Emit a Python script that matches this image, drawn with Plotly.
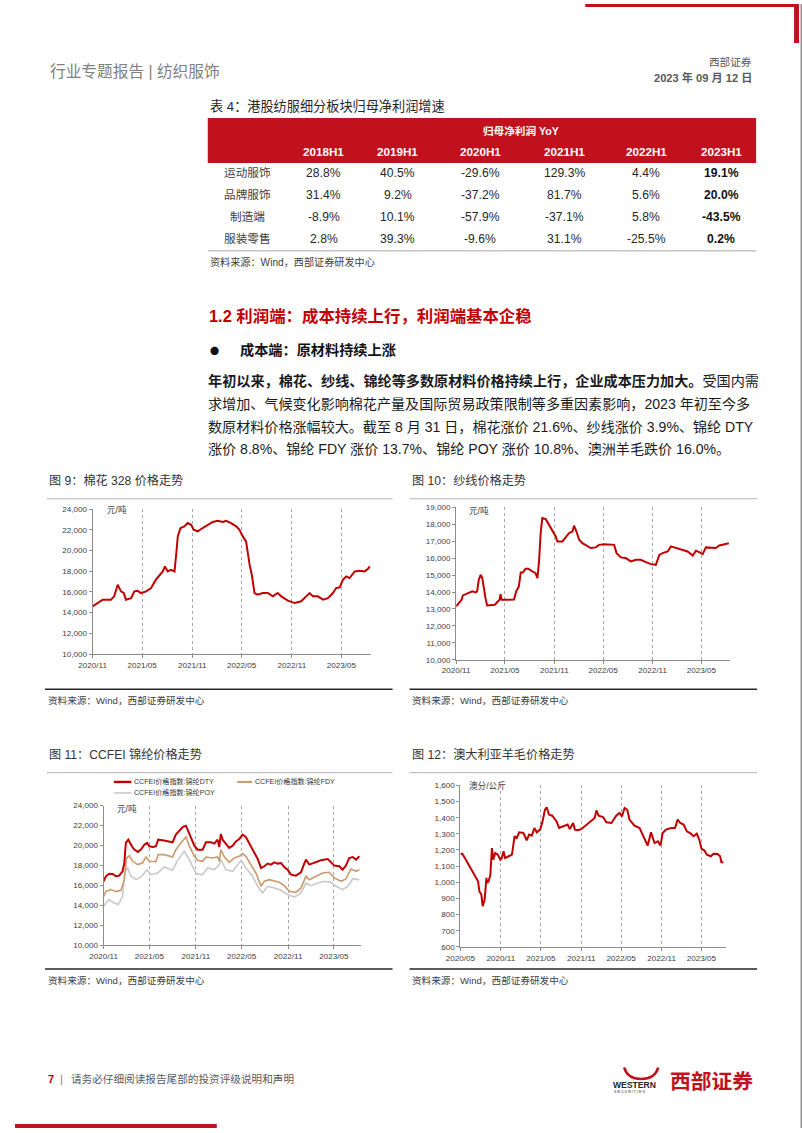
import plotly.graph_objects as go

W, H = 802, 1133

# ---------------- table data ----------------
years = ["2018H1", "2019H1", "2020H1", "2021H1", "2022H1", "2023H1"]
sectors = ["运动服饰", "品牌服饰", "制造端", "服装零售"]
yoy_sport = [28.8, 40.5, -29.6, 129.3, 4.4, 19.1]
yoy_brand = [31.4, 9.2, -37.2, 81.7, 5.6, 20.0]
yoy_manu = [-8.9, 10.1, -57.9, -37.1, 5.8, -43.5]
yoy_retail = [2.8, 39.3, -9.6, 31.1, -25.5, 0.2]

# ---------------- chart 9: cotton 328 ----------------
cotton_dates = ["2020-11-01","2020-11-13","2020-12-08","2021-01-07","2021-01-19","2021-02-01","2021-02-13","2021-02-23",
    "2021-03-03","2021-03-22","2021-04-03","2021-04-15","2021-04-27","2021-05-16","2021-06-03","2021-06-21","2021-07-04",
    "2021-07-16","2021-07-24","2021-08-03","2021-08-15","2021-08-28","2021-09-03","2021-09-09","2021-09-19","2021-10-03",
    "2021-10-15","2021-10-28","2021-11-06","2021-11-21","2021-12-09","2021-12-28","2022-01-15","2022-02-02","2022-02-21",
    "2022-03-05","2022-03-23","2022-04-11","2022-04-23","2022-05-05","2022-05-17","2022-05-30","2022-06-07","2022-06-17",
    "2022-06-29","2022-07-17","2022-08-05","2022-08-23","2022-09-10","2022-09-23","2022-10-17","2022-11-11","2022-12-05",
    "2022-12-23","2023-01-05","2023-01-17","2023-02-04","2023-02-23","2023-03-13","2023-03-31","2023-04-12","2023-04-25",
    "2023-05-07","2023-05-19","2023-05-31","2023-06-19","2023-07-07","2023-07-25","2023-08-07","2023-08-13"]
cotton_price = [14600,14830,15250,15250,15570,16690,16050,15890,15250,15400,16050,16100,15890,16050,16370,17180,17660,
    17980,18460,17980,18140,17980,19590,21360,22170,22330,22650,22490,22000,21840,22170,22490,22750,22870,22750,22870,
    22650,22330,22000,21360,20880,18630,17660,15890,15730,15890,15890,15570,15890,15570,15150,14920,15090,15570,15890,
    15570,15570,15250,15400,15890,16370,16440,17180,17500,17340,17980,18050,17980,18240,18460]

# ---------------- chart 10: yarn ----------------
yarn_dates = ["2020-11-01","2020-11-11","2020-11-21","2020-11-26","2020-12-06","2020-12-18","2020-12-31","2021-01-12",
    "2021-01-18","2021-01-24","2021-01-31","2021-02-06","2021-02-12","2021-02-18","2021-02-24","2021-03-15","2021-03-25",
    "2021-04-03","2021-04-11","2021-04-15","2021-04-19","2021-05-04","2021-05-16","2021-06-04","2021-06-12","2021-06-22",
    "2021-06-29","2021-07-07","2021-07-17","2021-07-27","2021-08-11","2021-08-23","2021-08-30","2021-09-05","2021-09-11",
    "2021-09-17","2021-09-30","2021-10-12","2021-10-24","2021-11-06","2021-11-12","2021-12-01","2021-12-13","2021-12-25",
    "2022-01-07","2022-01-13","2022-01-22","2022-02-01","2022-02-13","2022-03-04","2022-03-16","2022-04-04","2022-04-16",
    "2022-05-05","2022-05-23","2022-06-11","2022-06-20","2022-07-06","2022-07-24","2022-08-12","2022-08-31","2022-09-18",
    "2022-10-07","2022-10-26","2022-11-13","2022-11-26","2022-12-08","2022-12-27","2023-01-08","2023-01-27","2023-02-20",
    "2023-03-11","2023-03-30","2023-04-11","2023-04-23","2023-05-06","2023-05-18","2023-06-06","2023-06-24","2023-07-07",
    "2023-07-26","2023-08-11"]
yarn_price = [13150,13350,13540,13800,13880,13980,14040,13980,14040,14730,15020,14820,14140,13640,13210,13210,13250,
    13410,13540,13880,13540,13540,13560,13560,14040,14330,15160,15160,15380,15380,15220,15120,14820,15810,17480,18370,
    18310,17980,17680,17290,16990,16990,17230,17480,17580,17920,17580,17090,16890,16700,16600,16640,16790,16830,16830,
    16790,16300,16050,16010,15810,15910,15910,15770,15650,15610,16200,16300,16400,16700,16600,16500,16400,16160,16440,
    16360,16240,16640,16600,16600,16750,16830,16890]

# ---------------- chart 11: nylon (CCFEI) ----------------
dty_dates = ["2020-11-01","2020-11-10","2020-11-23","2020-12-07","2020-12-20","2021-01-02","2021-01-15","2021-01-22",
    "2021-01-28","2021-02-07","2021-02-15","2021-02-28","2021-03-16","2021-03-29","2021-04-11","2021-04-22","2021-05-01",
    "2021-05-14","2021-05-27","2021-06-05","2021-06-23","2021-07-12","2021-08-01","2021-08-14","2021-08-31","2021-09-10",
    "2021-09-23","2021-09-30","2021-10-13","2021-10-26","2021-11-08","2021-11-28","2021-12-11","2021-12-31","2022-01-13",
    "2022-01-26","2022-02-02","2022-02-08","2022-02-15","2022-02-28","2022-03-13","2022-03-27","2022-04-09","2022-04-22",
    "2022-05-05","2022-05-18","2022-06-01","2022-06-14","2022-07-04","2022-07-17","2022-07-30","2022-08-12","2022-08-25",
    "2022-09-08","2022-09-21","2022-10-04","2022-10-17","2022-10-30","2022-11-13","2022-12-02","2022-12-22","2023-01-04",
    "2023-01-11","2023-01-24","2023-02-13","2023-03-11","2023-04-07","2023-04-20","2023-05-03","2023-05-23","2023-06-05",
    "2023-06-18","2023-07-01","2023-07-15","2023-07-28","2023-08-10"]
dty_price = [16415,16920,17180,17150,16920,16980,17420,18250,20260,20590,20190,19660,19360,19590,20090,20260,19920,
    19860,19920,20590,20520,20420,20320,21090,21530,21860,21990,21590,20760,19990,19590,19590,20320,20320,20190,20590,
    19860,21160,20590,20190,19760,19990,20420,20660,21090,20860,20190,19590,18650,17750,17920,18190,18090,18320,18190,
    18250,17850,17580,17080,16980,17320,18190,18590,18090,18250,18520,18650,18320,17990,17920,17580,17990,18750,18850,
    18590,18920]

fdy_dates = ["2020-11-01","2020-11-10","2020-11-30","2020-12-20","2021-01-09","2021-01-22","2021-01-31","2021-02-11",
    "2021-02-24","2021-03-16","2021-04-04","2021-04-18","2021-05-01","2021-05-27","2021-06-05","2021-06-29","2021-08-01",
    "2021-08-14","2021-09-03","2021-09-23","2021-10-06","2021-10-26","2021-11-08","2021-11-28","2021-12-11","2022-01-06",
    "2022-01-26","2022-02-02","2022-02-08","2022-02-22","2022-03-13","2022-04-02","2022-04-22","2022-05-05","2022-05-18",
    "2022-06-07","2022-06-27","2022-07-17","2022-07-30","2022-08-19","2022-09-08","2022-09-27","2022-10-17","2022-11-06",
    "2022-12-02","2022-12-22","2023-01-11","2023-01-24","2023-02-20","2023-03-18","2023-04-13","2023-05-03","2023-05-30",
    "2023-06-18","2023-07-08","2023-07-28","2023-08-10"]
fdy_price = [14910,15410,15580,15380,15510,16580,18750,18990,18420,18090,18250,18850,18420,18390,19090,19090,18850,
    19590,20260,20860,19990,18920,18520,18420,18850,18750,18850,18420,19590,18850,18320,18750,18920,19190,18920,18090,
    17250,15910,16420,16580,16420,16310,15980,15410,15310,15750,16920,16580,16920,17250,17320,16750,16420,16650,17650,
    17420,17580]

poy_dates = ["2020-11-01","2020-11-10","2020-11-23","2020-12-13","2020-12-29","2021-01-15","2021-01-24","2021-02-04",
    "2021-02-17","2021-03-09","2021-03-29","2021-04-22","2021-05-07","2021-06-03","2021-06-29","2021-08-01","2021-08-21",
    "2021-09-16","2021-10-06","2021-11-02","2021-11-28","2021-12-18","2022-01-13","2022-02-02","2022-02-08","2022-02-28",
    "2022-03-27","2022-04-29","2022-05-18","2022-06-14","2022-07-04","2022-07-23","2022-08-12","2022-09-08","2022-10-04",
    "2022-10-30","2022-11-26","2022-12-22","2023-01-11","2023-01-31","2023-02-26","2023-03-25","2023-04-20","2023-05-10",
    "2023-06-05","2023-06-25","2023-07-15","2023-08-10"]
poy_price = [13910,14240,14580,14240,14080,14910,17420,17750,16920,16580,16850,17580,17080,17250,17850,17520,18520,
    19420,18590,17180,17080,17750,17580,18090,18590,17580,17420,18520,17750,16920,15910,15250,15910,15750,15510,15080,
    14840,15250,16250,15980,16250,16420,16310,15910,15580,15910,16650,16580]

nylon_names = ["CCFEI价格指数:锦纶DTY", "CCFEI价格指数:锦纶FDY", "CCFEI价格指数:锦纶POY"]

# ---------------- chart 12: Australian wool ----------------
wool_dates = ["2020-05-01","2020-05-09","2020-05-21","2020-06-08","2020-06-23","2020-07-08","2020-07-20","2020-07-26",
    "2020-08-04","2020-08-10","2020-08-19","2020-08-27","2020-08-31","2020-09-06","2020-09-14","2020-09-21","2020-09-27",
    "2020-10-06","2020-10-18","2020-10-29","2020-11-05","2020-11-13","2020-11-20","2020-12-06","2020-12-21","2021-01-02",
    "2021-01-12","2021-01-23","2021-02-11","2021-02-26","2021-03-09","2021-03-21","2021-04-02","2021-04-13","2021-04-28",
    "2021-05-08","2021-05-20","2021-05-28","2021-06-07","2021-06-22","2021-07-12","2021-07-23","2021-08-04","2021-08-16",
    "2021-08-31","2021-09-10","2021-09-25","2021-10-03","2021-10-18","2021-11-02","2021-11-25","2021-12-17","2022-01-01",
    "2022-01-09","2022-01-19","2022-02-08","2022-02-23","2022-03-18","2022-04-09","2022-04-24","2022-05-05","2022-05-17",
    "2022-05-29","2022-06-08","2022-07-01","2022-07-24","2022-08-12","2022-08-30","2022-09-14","2022-09-30","2022-10-15",
    "2022-10-27","2022-11-06","2022-11-21","2022-12-14","2023-01-01","2023-01-13","2023-01-25","2023-02-09","2023-02-24",
    "2023-03-14","2023-03-26","2023-04-10","2023-04-21","2023-05-02","2023-05-14","2023-05-26","2023-06-13","2023-06-25",
    "2023-07-13","2023-07-25","2023-07-31","2023-08-09"]
wool_price = [1175,1177,1150,1109,1074,1041,1006,944,924,852,893,1027,996,1006,1047,1212,1140,1181,1171,1140,1150,1192,
    1150,1161,1171,1285,1274,1309,1305,1260,1295,1289,1336,1309,1326,1371,1449,1464,1419,1412,1377,1336,1342,1350,1357,
    1330,1367,1326,1322,1330,1357,1377,1398,1445,1412,1404,1371,1367,1412,1429,1408,1460,1449,1388,1350,1336,1285,1227,
    1309,1243,1254,1227,1305,1326,1336,1336,1388,1367,1357,1315,1301,1285,1301,1264,1206,1198,1171,1161,1177,1175,1161,
    1124,1124]

ticks_a = ["2020/11", "2021/05", "2021/11", "2022/05", "2022/11", "2023/05"]
ticks_b = ["2020/05", "2020/11", "2021/05", "2021/11", "2022/05", "2022/11", "2023/05"]

# ---------------- styles ----------------
RED = "#C00000"
TRED = "#C0111C"
AX = "#8c8c8c"
GRID = "#a6a6a6"
LAT = "Liberation Sans, Arial, Noto Sans CJK SC"
CJK = "Liberation Sans, Noto Sans CJK SC"

# the photographed page comes out offset/shrunk slightly; target pixel positions are mapped through this
OX, SX = 14.0, 0.9825
OY, SY = 4.0, 0.9925
FS = 1 / 0.9875


def X(p):
    return min(max(((p - OX) / SX) / W, 0.0), 1.0)


def Y(p):
    return min(max(1 - ((p - OY) / SY) / H, 0.0), 1.0)


def F(s):
    return round(s * FS, 2)


TF = dict(family=LAT, size=F(8), color="#404040")


def txt(x, y, text, size, color="#262626", anchor="left", family=CJK, bold=False):
    return dict(x=X(x), y=Y(y), xref="paper", yref="paper", showarrow=False,
                text=("<b>%s</b>" % text) if bold else text,
                xanchor=anchor, yanchor="middle", font=dict(size=F(size), color=color, family=family))


def rect(x0, y0, x1, y1, color):
    return dict(type="rect", xref="paper", yref="paper", x0=X(x0), x1=X(x1), y0=Y(y1), y1=Y(y0),
                fillcolor=color, line=dict(width=0), layer="above")


def hline(x0, x1, y, color, width=1, dash="solid"):
    return dict(type="line", xref="paper", yref="paper", x0=X(x0), x1=X(x1), y0=Y(y), y1=Y(y),
                line=dict(color=color, width=width, dash=dash), layer="above")


def tickdates(labels):
    return [t.replace("/", "-") + "-01" for t in labels]


def xax(d0, d1, rng, labels, anchor):
    return dict(domain=[X(d0), X(d1)], range=rng, type="date", tickvals=tickdates(labels), ticktext=labels,
                showline=True, linecolor=AX, linewidth=1, showgrid=True, gridcolor=GRID, griddash="dot",
                gridwidth=1, ticks="outside", ticklen=3, tickcolor=AX, tickfont=TF, anchor=anchor,
                zeroline=False, fixedrange=True)


def yax(top, bottom, rng, dt, anchor):
    return dict(domain=[Y(bottom), Y(top)], range=rng, dtick=dt, tick0=rng[0], tickformat=",d",
                showline=True, linecolor=AX, linewidth=1, showgrid=False, ticks="outside", ticklen=3,
                tickcolor=AX, tickfont=TF, anchor=anchor, zeroline=False, fixedrange=True)


fig = go.Figure()

fig.add_trace(go.Scatter(x=cotton_dates, y=cotton_price, mode="lines", line=dict(color=RED, width=2),
                         xaxis="x", yaxis="y", showlegend=False, hoverinfo="skip"))
fig.add_trace(go.Scatter(x=yarn_dates, y=yarn_price, mode="lines", line=dict(color=RED, width=2),
                         xaxis="x2", yaxis="y2", showlegend=False, hoverinfo="skip"))
fig.add_trace(go.Scatter(x=poy_dates, y=poy_price, mode="lines", line=dict(color="#c9c9c9", width=1.6),
                         xaxis="x3", yaxis="y3", name=nylon_names[2], showlegend=False, hoverinfo="skip"))
fig.add_trace(go.Scatter(x=fdy_dates, y=fdy_price, mode="lines", line=dict(color="#c99a6e", width=1.6),
                         xaxis="x3", yaxis="y3", name=nylon_names[1], showlegend=False, hoverinfo="skip"))
fig.add_trace(go.Scatter(x=dty_dates, y=dty_price, mode="lines", line=dict(color=RED, width=2),
                         xaxis="x3", yaxis="y3", name=nylon_names[0], showlegend=False, hoverinfo="skip"))
fig.add_trace(go.Scatter(x=wool_dates, y=wool_price, mode="lines", line=dict(color=RED, width=2),
                         xaxis="x4", yaxis="y4", showlegend=False, hoverinfo="skip"))

fig.update_layout(
    width=W, height=H, autosize=False, margin=dict(l=0, r=0, t=0, b=0),
    paper_bgcolor="white", plot_bgcolor="white",
    xaxis=xax(91.7, 370, ["2020-11-01", "2023-08-16"], ticks_a, "y"),
    yaxis=yax(509.3, 654.3, [10000, 24000], 2000, "x"),
    xaxis2=xax(455.7, 730, ["2020-11-01", "2023-08-16"], ticks_a, "y2"),
    yaxis2=yax(507.7, 660, [10000, 19000], 1000, "x2"),
    xaxis3=xax(102.7, 360, ["2020-11-01", "2023-08-15"], ticks_a, "y3"),
    yaxis3=yax(806, 945.7, [10000, 24000], 2000, "x3"),
    xaxis4=xax(460, 725.7, ["2020-05-01", "2023-08-20"], ticks_b, "y4"),
    yaxis4=yax(785.7, 947.3, [600, 1600], 100, "x4"),
)

ann = []
shapes = []

# page frame (right edge) and decorations
shapes.append(dict(type="line", xref="paper", yref="paper", x0=X(801.2), x1=X(801.2), y0=0, y1=1,
                   line=dict(color="#8a8a8a", width=1.4), layer="above"))
shapes.append(rect(585, 2, 799, 7, TRED))
shapes.append(rect(794, 2, 799, 43, TRED))
shapes.append(rect(14, 1124.5, 216, 1129.5, TRED))

# header
ann.append(txt(47, 72, "行业专题报告 | 纺织服饰", 15.5, "#808080"))
ann.append(txt(754, 62, "西部证券", 10.5, "#595959", anchor="right"))
ann.append(txt(754, 78, "2023 年 09 月 12 日", 11, "#595959", anchor="right", bold=True))

# table
ann.append(txt(207, 107, "表 4：港股纺服细分板块归母净利润增速", 13, "#262626"))
shapes.append(rect(207, 118, 756, 163, TRED))
ann.append(txt(521, 131, "归母净利润 YoY", 10.5, "white", anchor="center", bold=True))
col_x = [323, 397, 480, 564, 646, 721]
for cx, yr in zip(col_x, years):
    ann.append(txt(cx, 152, yr, 11.5, "white", anchor="center", family=LAT, bold=True))
row_y = [173, 195, 217, 239]
rows = [yoy_sport, yoy_brand, yoy_manu, yoy_retail]
for ry, name, vals in zip(row_y, sectors, rows):
    ann.append(txt(247, ry, name, 11.5, "#404040", anchor="center"))
    for i, (cx, v) in enumerate(zip(col_x, vals)):
        last = i == len(vals) - 1
        ann.append(txt(cx, ry, "%.1f%%" % v, 12, "#111111" if last else "#262626", anchor="center",
                       family=LAT, bold=last))
shapes.append(hline(207, 756, 251, "#a6a6a6", 1))
ann.append(txt(207, 262, "资料来源：Wind，西部证券研发中心", 10, "#404040"))

# section text
ann.append(txt(206, 316, "1.2 利润端：成本持续上行，利润端基本企稳", 16.2, RED, bold=True))
ann.append(txt(207, 350, "●", 9, "#111111", family="Noto Sans CJK SC"))
ann.append(txt(237, 350, "成本端：原材料持续上涨", 14, "#111111", bold=True))
ann.append(txt(205, 381.5, "<b>年初以来，棉花、纱线、锦纶等多数原材料价格持续上行，企业成本压力加大。</b>受国内需",
               13.95, "#1a1a1a"))
ann.append(txt(205, 404.3, "求增加、气候变化影响棉花产量及国际贸易政策限制等多重因素影响，2023 年初至今多", 13.9, "#1a1a1a"))
ann.append(txt(205, 426.7, "数原材料价格涨幅较大。截至 8 月 31 日，棉花涨价 21.6%、纱线涨价 3.9%、锦纶 DTY", 13.9, "#1a1a1a"))
ann.append(txt(205, 448.8, "涨价 8.8%、锦纶 FDY 涨价 13.7%、锦纶 POY 涨价 10.8%、澳洲羊毛跌价 16.0%。", 13.9, "#1a1a1a"))

# chart titles / frames
ann.append(txt(46, 481, "图 9：棉花 328 价格走势", 12, "#333333"))
ann.append(txt(409, 481, "图 10：纱线价格走势", 12, "#333333"))
ann.append(txt(46, 755, "图 11：CCFEI 锦纶价格走势", 12, "#333333"))
ann.append(txt(409, 755, "图 12：澳大利亚羊毛价格走势", 12, "#333333"))
shapes.append(hline(46, 392, 499, "#b3b3b3", 1))
shapes.append(hline(409, 757, 499, "#b3b3b3", 1))
shapes.append(hline(46, 392, 773, "#b3b3b3", 1))
shapes.append(hline(409, 757, 773, "#b3b3b3", 1))
shapes.append(hline(44, 392, 689.5, "#262626", 1.4))
shapes.append(hline(409, 757, 689.5, "#262626", 1.4))
shapes.append(hline(44, 392, 969.5, "#262626", 1.4))
shapes.append(hline(409, 757, 969.5, "#262626", 1.4))
for sx, sy in [(45, 701), (409, 701), (45, 981), (409, 981)]:
    ann.append(txt(sx, sy, "资料来源：Wind，西部证券研发中心", 9.5, "#404040"))

# unit labels
ann.append(txt(104, 510, "元/吨", 8.5, "#404040"))
ann.append(txt(467, 511, "元/吨", 8.5, "#404040"))
ann.append(txt(114, 809, "元/吨", 8.5, "#404040"))
ann.append(txt(467, 786, "澳分/公斤", 8.5, "#404040"))

# chart 11 legend
shapes.append(hline(113, 130.5, 782.3, RED, 2.4))
shapes.append(hline(236.5, 251.5, 782.3, "#c99a6e", 2))
shapes.append(hline(113, 130.5, 793.3, "#c9c9c9", 1.6))
ann.append(txt(131.5, 782.3, nylon_names[0], 7, "#333333"))
ann.append(txt(252.5, 782.3, nylon_names[1], 7, "#333333"))
ann.append(txt(131.5, 793.3, nylon_names[2], 7, "#333333"))

# footer
ann.append(txt(45, 1079, "7", 11, RED, family=LAT, bold=True))
ann.append(txt(57, 1079, "|", 11, "#808080", family=LAT))
ann.append(txt(68, 1079, "请务必仔细阅读报告尾部的投资评级说明和声明", 10.5, "#595959"))
ann.append(txt(611, 1085, "WESTERN", 8.5, "#262626", family=LAT, bold=True))
ann.append(txt(612, 1092.5, "S E C U R I T I E S", 3.6, "#262626", family=LAT))
ann.append(txt(668, 1082, "西部证券", 20.5, TRED, bold=True))


def P(x, y):
    return "%.5f %.5f" % (X(x), Y(y))


horn = "M %s Q %s %s Q %s %s" % (P(624, 1068), P(627, 1079.5), P(641, 1079.5), P(655, 1079.5), P(658, 1068))
shapes.append(dict(type="path", xref="paper", yref="paper", path=horn,
                   line=dict(color=TRED, width=2.6), layer="above"))

fig.update_layout(annotations=ann, shapes=shapes)

page_fix = ("document.documentElement.style.margin='0';document.documentElement.style.padding='0';"
            "document.documentElement.style.overflow='hidden';document.body.style.margin='0';"
            "document.body.style.padding='0';document.body.style.overflow='hidden';")
fig.write_html("out.html", post_script=page_fix, config={"displayModeBar": False})
